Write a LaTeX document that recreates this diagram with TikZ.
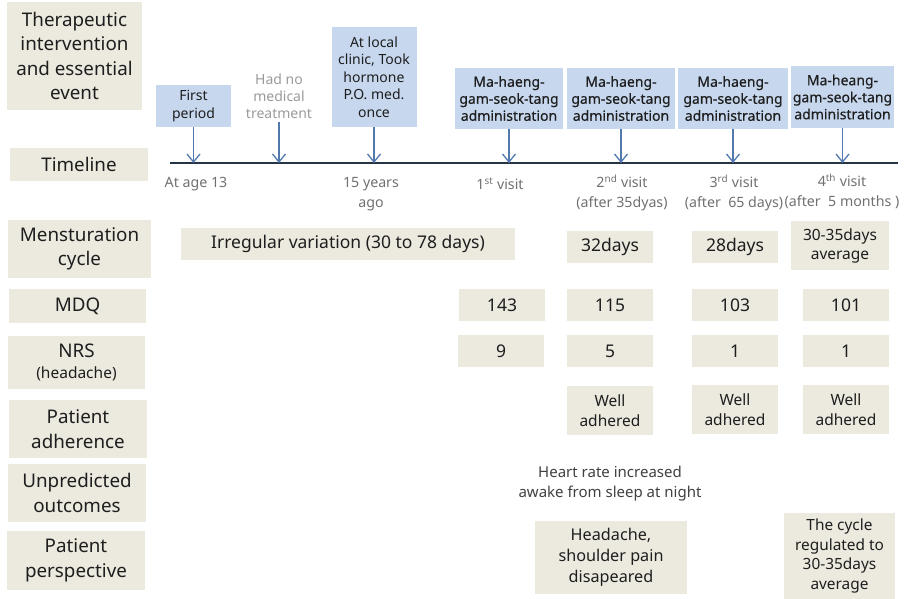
\documentclass[tikz,border=0pt]{standalone}
\usepackage{fontspec}
\setmainfont{Noto Sans}
\newfontfamily\medfont[FakeBold=0.35]{Noto Sans}
\usetikzlibrary{arrows.meta, positioning}
\definecolor{beige}{HTML}{ECE9DF}
\definecolor{paleblue}{HTML}{C6D7EE}
\definecolor{arrowblue}{HTML}{5279AE}
\definecolor{navy}{HTML}{263545}
\definecolor{txt}{HTML}{1E1E1E}
\definecolor{faint}{HTML}{707070}
\definecolor{fainter}{HTML}{9A9A9A}

\begin{document}
\begin{tikzpicture}[x=1pt, y=-1pt,
    head/.style = {fill=beige, text=txt, align=center, inner sep=0pt, font=\fontsize{18.8}{24.5}\selectfont},
    cell/.style = {fill=beige, text=txt, align=center, inner sep=0pt, minimum width=86pt, minimum height=32pt, font=\fontsize{17.5}{20}\selectfont},
    drug/.style = {fill=paleblue, text=txt, align=center, inner sep=0pt, font=\fontsize{14}{17.5}\selectfont},
    note/.style = {text=faint, align=center, font=\fontsize{14.2}{19.5}\selectfont},
    arr/.style = {-{Straight Barb[length=8pt, width=13pt, line width=1.3pt]}, arrowblue, line width=1.3pt},
]
    \useasboundingbox (0,0) rectangle (904,599);

    % Row headers on the left
    \node[head, minimum width=135pt, minimum height=108pt] (hEvent) at (74.5,56) {Therapeutic\\intervention\\and essential\\event};
    \node[head, minimum width=138pt, minimum height=33pt] (hTime) at (79,164.5) {Timeline};
    \node[head, minimum width=143pt, minimum height=58pt] (hCycle) at (79.5,249) {Mensturation\\cycle};
    \node[head, minimum width=137pt, minimum height=34pt] (hMDQ) at (77.5,306) {MDQ};
    \node[head, minimum width=137pt, minimum height=53pt] (hNRS) at (76.5,362.5) {NRS\\[-3pt]{\fontsize{15.5}{18}\selectfont (headache)}};
    \node[head, minimum width=138pt, minimum height=58pt] (hAdh) at (78,429) {Patient\\adherence};
    \node[head, minimum width=138pt, minimum height=58pt] (hUnp) at (77,493) {Unpredicted\\outcomes};
    \node[head, minimum width=138pt, minimum height=59pt] (hPer) at (76,560.5) {Patient\\perspective};

    % Timeline axis
    \coordinate (tlS) at (170,163);
    \coordinate (tlE) at (898,163);
    \draw[navy, line width=2.4pt] (tlS) -- (tlE);

    % Events above the timeline
    \node[drug, minimum width=75pt, minimum height=42pt] (first) at (193.5,106) {First\\period};
    \node[note, text=fainter, font=\fontsize{14}{17}\selectfont] (noTreat) at (279,96) {Had no\\medical\\treatment};
    \node[drug, minimum width=85pt, minimum height=100pt] (clinic) at (374,77) {At local\\clinic, Took\\hormone\\P.O. med.\\once};
    \node[drug, minimum width=108pt, minimum height=61pt, font=\medfont\fontsize{14}{17}\selectfont] (mg1) at (509,98.5) {Ma-haeng-\\gam-seok-tang\\administration};
    \node[drug, minimum width=108pt, minimum height=61pt, font=\medfont\fontsize{14}{17}\selectfont] (mg2) at (621,98.5) {Ma-haeng-\\gam-seok-tang\\administration};
    \node[drug, minimum width=110pt, minimum height=61pt, font=\medfont\fontsize{14}{17}\selectfont] (mg3) at (733,98.5) {Ma-haeng-\\gam-seok-tang\\administration};
    \node[drug, minimum width=103pt, minimum height=61pt, font=\medfont\fontsize{14}{17}\selectfont] (mg4) at (842.5,97) {Ma-heang-\\gam-seok-tang\\administration};

    % Arrows onto the timeline
    \draw[arr] (first.south) -- (first.south |- tlS);
    \draw[arr] (noTreat.south) -- (noTreat.south |- tlS);
    \draw[arr] (clinic.south) -- (clinic.south |- tlS);
    \draw[arr] (mg1.south) -- (mg1.south |- tlS);
    \draw[arr] (mg2.south) -- (mg2.south |- tlS);
    \draw[arr] (mg3.south) -- (mg3.south |- tlS);
    \draw[arr] (mg4.south) -- (mg4.south |- tlS);

    % Labels below the timeline
    \node[note] (age) at (196,184) {At age 13};
    \node[note] (years) at (371,194) {15 years\\ago};
    \node[note] (v1) at (500,184) {1\textsuperscript{st} visit};
    \node[note] (v2) at (622,193) {2\textsuperscript{nd} visit\\(after 35dyas)};
    \node[note] (v3) at (734,193) {3\textsuperscript{rd} visit\\(after~ 65 days)};
    \node[note] (v4) at (842,191) {4\textsuperscript{th} visit\\(after~ 5 months )};

    % Mensturation cycle
    \node[cell, minimum width=334pt] (irr) at (348,244) {Irregular variation (30 to 78 days)};
    \node[cell] (c2) at (610,247) {32days};
    \node[cell] (c3) at (735,247) {28days};
    \node[cell, minimum width=98pt, minimum height=49pt, font=\fontsize{15.5}{19}\selectfont] (c4) at (840,245.5) {30-35days\\average};

    % MDQ
    \node[cell] (m1) at (502,305) {143};
    \node[cell] (m2) at (610,305) {115};
    \node[cell] (m3) at (735,305) {103};
    \node[cell] (m4) at (846,305) {101};

    % NRS
    \node[cell] (n1) at (501,351) {9};
    \node[cell] (n2) at (610,351) {5};
    \node[cell] (n3) at (735,351) {1};
    \node[cell] (n4) at (846,351) {1};

    % Patient adherence
    \node[cell, minimum height=49pt, font=\fontsize{15.5}{19.5}\selectfont] (a2) at (610,410.5) {Well\\adhered};
    \node[cell, minimum height=49pt, font=\fontsize{15.5}{19.5}\selectfont] (a3) at (735,409.5) {Well\\adhered};
    \node[cell, minimum height=49pt, font=\fontsize{15.5}{19.5}\selectfont] (a4) at (846,409.5) {Well\\adhered};

    % Unpredicted outcomes
    \node[note, text=black!75, font=\fontsize{15}{20}\selectfont] (heart) at (610,484) {Heart rate increased\\awake from sleep at night};

    % Patient perspective
    \node[cell, minimum width=152pt, minimum height=73pt, font=\fontsize{16.2}{21}\selectfont] (p2) at (611,557.5) {Headache,\\shoulder pain\\disapeared};
    \node[cell, minimum width=111pt, minimum height=86pt, font=\fontsize{15.4}{19.5}\selectfont] (p4) at (839.5,556) {The cycle\\regulated to\\30-35days\\average};
\end{tikzpicture}
\end{document}
